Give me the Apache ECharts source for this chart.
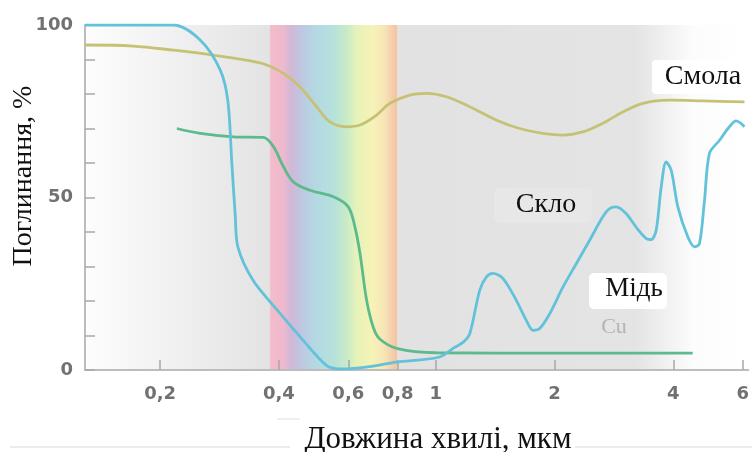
<!DOCTYPE html>
<html><head><meta charset="utf-8">
<script src="https://cdn.jsdelivr.net/npm/echarts@6/dist/echarts.min.js"></script>
<style>html,body{margin:0;padding:0;background:#fff}#c{width:752px;height:452px}</style>
</head><body><div id="c"></div>
<script>
// ---- data ----
const xTicks = [0.2, 0.4, 0.6, 0.8, 1, 2, 4, 6];
const yTicks = [0, 50, 100];
const xRange = [0.129, 6.2];
const visibleBand = [0.38, 0.8];
const resin = [
  [0.129, 94.2], [0.171, 93.9], [0.2165, 92.7], [0.2726, 91.3], [0.331, 89.8],
  [0.3726, 88.4], [0.411, 86], [0.4524, 82.1], [0.4987, 76.3], [0.539, 71.9],
  [0.594, 70.5], [0.6425, 71], [0.7077, 73.9], [0.765, 77.3], [0.859, 79.7],
  [0.947, 80.2], [1.064, 79.2], [1.219, 76.3], [1.425, 72.4], [1.631, 70],
  [1.868, 68.6], [2.1, 68.1], [2.36, 69], [2.65, 71.5], [2.98, 74.8],
  [3.35, 77.3], [3.91, 78.2], [4.75, 78], [6.06, 77.7]
];
const glass = [
  [0.2206, 70], [0.2527, 68.6], [0.307, 67.6], [0.3654, 67.4], [0.3877, 64.7],
  [0.411, 58.9], [0.4355, 54.5], [0.48, 52.1], [0.55, 50.2], [0.5997, 47.3],
  [0.6237, 41.4], [0.6425, 33.7], [0.6677, 20.2], [0.694, 12.4], [0.721, 9],
  [0.8, 6.2], [1.0, 5], [2.0, 4.9], [4.48, 4.9]
];
const copper = [
  [0.129, 100], [0.216, 100], [0.253, 95.6], [0.284, 87], [0.297, 78],
  [0.304, 60], [0.31, 45], [0.315, 35.6], [0.344, 26], [0.396, 17.4],
  [0.453, 9.6], [0.53, 1.2], [0.58, 0.3], [0.7, 1.2], [0.792, 2.3],
  [1.017, 3.7], [1.117, 6.6], [1.172, 8], [1.219, 10.5], [1.292, 23.1],
  [1.344, 27], [1.396, 28], [1.481, 26.5], [1.6, 20.2], [1.696, 14.4],
  [1.764, 11.5], [1.834, 12], [1.944, 16.3], [2.1, 24], [2.27, 30.8],
  [2.455, 37.6], [2.65, 44.4], [2.757, 46.8], [2.868, 47.3], [3.04, 45.3],
  [3.22, 41.4], [3.417, 38.1], [3.516, 37.8], [3.62, 40.5], [3.727, 53],
  [3.837, 60.3], [3.952, 57.9], [4.108, 47.3], [4.353, 38.6], [4.526, 35.7],
  [4.66, 36.6], [4.8, 49.2], [4.94, 62.8], [5.24, 66.6], [5.55, 70.5],
  [5.77, 72.2], [5.94, 71.5], [6.06, 70.5]
];
const seriesNames = ['Смола', 'Скло', 'Мідь'];
const xTitle = 'Довжина хвилі, мкм';
const yTitle = 'Поглинання, %';

// ---- chart ----
const chart = echarts.init(document.getElementById('c'), null, {renderer: 'canvas'});
const lg = (stops) => new echarts.graphic.LinearGradient(0, 0, 1, 0, stops);
const fmtX = v => String(Math.round(v * 10) / 10).replace('.', ',');
const axisGray = '#bdbdbd';
const tickGray = '#a8a8a8';
const labelFont = {fontFamily: 'DejaVu Sans', fontWeight: 'bold', fontSize: 18, color: '#717171'};

chart.setOption({
  animation: false,
  backgroundColor: '#ffffff',
  grid: {left: 85, right: 3, top: 25, bottom: 82, containLabel: false},
  xAxis: {
    type: 'log', logBase: 10, min: xRange[0], max: xRange[1], z: 2,
    axisLine: {show: true, lineStyle: {color: axisGray, width: 2}},
    axisTick: {show: true, inside: true, length: 10, customValues: xTicks, lineStyle: {color: tickGray, width: 1.5}},
    axisLabel: Object.assign({show: true, margin: 15, customValues: xTicks, formatter: fmtX}, labelFont),
    splitLine: {show: false}, minorTick: {show: false}
  },
  yAxis: {
    type: 'value', min: 0, max: 100, interval: 10, z: 2,
    axisLine: {show: true, lineStyle: {color: axisGray, width: 2}},
    axisTick: {show: true, inside: true, length: 10, lineStyle: {color: tickGray, width: 1.5}},
    axisLabel: Object.assign({show: true, margin: 12, formatter: v => yTicks.includes(v) ? String(v) : ''}, labelFont),
    splitLine: {show: false}
  },
  series: [
    {
      name: seriesNames[0], type: 'line', data: resin, smooth: 0.35, showSymbol: false, z: 3,
      lineStyle: {color: '#c5c275', width: 2.8},
      markArea: {
        silent: true, z: 1,
        data: [
          [{xAxis: xRange[0], itemStyle: {color: lg([{offset: 0, color: '#fdfdfd'}, {offset: 1, color: '#e3e3e3'}])}},
           {xAxis: visibleBand[0]}],
          [{xAxis: visibleBand[0], itemStyle: {color: lg([
            {offset: 0, color: '#f2bccb'}, {offset: 0.1, color: '#efb9cc'},
            {offset: 0.17, color: '#cfb8d8'}, {offset: 0.26, color: '#bccae2'},
            {offset: 0.36, color: '#b4d9e2'}, {offset: 0.5, color: '#b6e1dc'},
            {offset: 0.6, color: '#c8ebc6'}, {offset: 0.68, color: '#e6f2b9'},
            {offset: 0.8, color: '#f6f3b7'}, {offset: 0.9, color: '#f7e4b6'},
            {offset: 0.96, color: '#f5cdaa'}, {offset: 1, color: '#f1c1a3'}
          ])}},
           {xAxis: visibleBand[1]}],
          [{xAxis: visibleBand[1], itemStyle: {color: lg([
            {offset: 0, color: '#e2e2e2'}, {offset: 0.68, color: '#e4e4e4'},
            {offset: 0.84, color: '#fcfcfc'}, {offset: 1, color: '#ffffff'}
          ])}},
           {xAxis: xRange[1]}]
        ]
      }
    },
    {
      name: seriesNames[1], type: 'line', data: glass, smooth: 0.35, showSymbol: false, z: 4,
      lineStyle: {color: '#5cba8c', width: 2.8}
    },
    {
      name: seriesNames[2], type: 'line', data: copper, smooth: 0.3, showSymbol: false, z: 5,
      lineStyle: {color: '#62c2d9', width: 2.8}
    }
  ],
  graphic: [
    {type: 'line', shape: {x1: 10, y1: 447, x2: 290, y2: 447}, style: {stroke: '#dadada', lineWidth: 1}, z: 1},
    {type: 'line', shape: {x1: 575, y1: 447, x2: 752, y2: 447}, style: {stroke: '#dadada', lineWidth: 1}, z: 1},
    {type: 'line', shape: {x1: 277, y1: 419, x2: 300, y2: 419}, style: {stroke: '#e0e0e0', lineWidth: 1}, z: 1},
    {type: 'rect', shape: {x: 652, y: 60, width: 100, height: 34, r: 4}, style: {fill: '#ffffff'}, z: 10},
    {type: 'rect', shape: {x: 494, y: 188, width: 98, height: 35, r: 5}, style: {fill: '#e7e7e7'}, z: 10},
    {type: 'rect', shape: {x: 589, y: 273, width: 78, height: 36, r: 5}, style: {fill: '#ffffff'}, z: 10},
    {type: 'text', x: 703, y: 77, z: 11, style: {text: seriesNames[0], font: '28px "Liberation Serif"', fill: '#111', align: 'center', verticalAlign: 'middle'}},
    {type: 'text', x: 546, y: 205, z: 11, style: {text: seriesNames[1], font: '28px "Liberation Serif"', fill: '#111', align: 'center', verticalAlign: 'middle'}},
    {type: 'text', x: 634, y: 289, z: 11, style: {text: seriesNames[2], font: '27px "Liberation Serif"', fill: '#111', align: 'center', verticalAlign: 'middle'}},
    {type: 'text', x: 614, y: 327, z: 11, style: {text: 'Cu', font: '22px "Liberation Serif"', fill: '#b3b3b3', align: 'center', verticalAlign: 'middle'}},
    {type: 'text', x: 438, y: 440, z: 11, style: {text: xTitle, font: '31px "Liberation Serif"', fill: '#111', align: 'center', verticalAlign: 'middle'}},
    {type: 'text', x: 24, y: 176, rotation: Math.PI / 2, z: 11, style: {text: yTitle, font: '28px "Liberation Serif"', fill: '#111', align: 'center', verticalAlign: 'middle'}}
  ]
});
</script>
</body></html>
